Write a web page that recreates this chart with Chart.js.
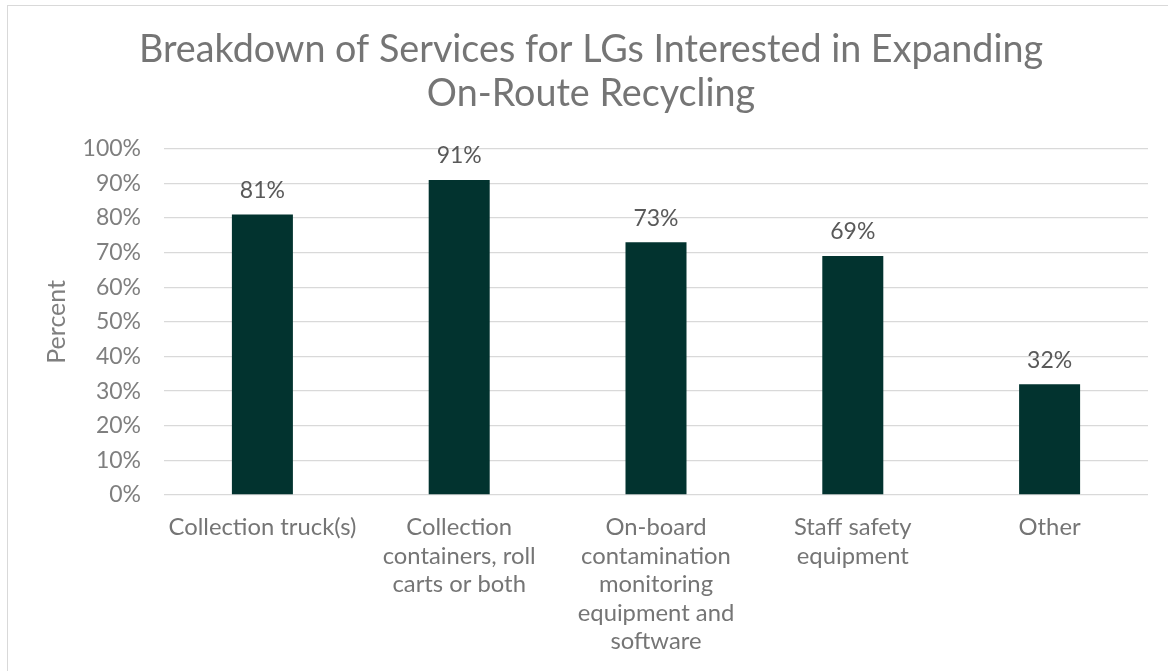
<!DOCTYPE html>
<html>
<head>
<meta charset="utf-8">
<script src="https://cdn.jsdelivr.net/npm/chart.js@4/dist/chart.umd.min.js"></script>
<style>
  html, body { margin: 0; padding: 0; background: #fff; }
  #wrap { position: relative; width: 1168px; height: 671px; overflow: hidden; }
  #frame { position: absolute; left: 7px; top: 5px; width: 1180px; height: 700px; border: 1px solid #d9d9d9; box-sizing: border-box; pointer-events: none; }
  canvas { position: absolute; left: 0; top: 0; }
</style>
</head>
<body>
<div id="wrap">
  <canvas id="servicesChart" width="1168" height="671"></canvas>
  <div id="frame"></div>
</div>
<script>
const categories = [
    'Collection truck(s)',
    ['Collection', 'containers, roll', 'carts or both'],
    ['On-board', 'contamination', 'monitoring', 'equipment and', 'software'],
    ['Staff safety', 'equipment'],
    'Other'
];
const percentValues = [81, 91, 73, 69, 32];
const yTicks = [0, 10, 20, 30, 40, 50, 60, 70, 80, 90, 100];

// labels above each bar
const barLabels = {
    id: 'barLabels',
    afterDatasetsDraw(chart) {
        const ctx = chart.ctx;
        const meta = chart.getDatasetMeta(0);
        ctx.save();
        ctx.font = '23px Lato';
        ctx.fillStyle = '#595959';
        ctx.textAlign = 'center';
        ctx.textBaseline = 'middle';
        meta.data.forEach((bar, i) => {
            ctx.fillText(percentValues[i] + '%', bar.x, bar.y - 24);
        });
        ctx.restore();
    }
};

document.addEventListener('DOMContentLoaded', () => {
    const ctx = document.getElementById('servicesChart').getContext('2d');
    new Chart(ctx, {
        type: 'bar',
        data: {
            labels: categories,
            datasets: [{
                label: 'Percent',
                data: percentValues,
                backgroundColor: '#02332f',
                barPercentage: 0.31,
                categoryPercentage: 1
            }]
        },
        options: {
            responsive: false,
            animation: false,
            layout: { padding: { left: 34, right: 20, top: 0, bottom: 0 } },
            plugins: {
                legend: { display: false },
                tooltip: { enabled: false },
                title: {
                    display: true,
                    text: ['Breakdown of Services for LGs Interested in Expanding', 'On-Route Recycling'],
                    color: '#757575',
                    font: { family: 'Lato', size: 37.7, weight: 'normal', lineHeight: 1.19 },
                    padding: { top: 27, bottom: 32 }
                }
            },
            scales: {
                x: {
                    grid: { display: false, drawTicks: false },
                    border: { display: false },
                    ticks: {
                        color: '#757575',
                        font: { family: 'Lato', size: 23.8, lineHeight: 1.2 },
                        padding: 18,
                        maxRotation: 0,
                        autoSkip: false
                    },
                    afterFit(scale) { scale.height = 176; }
                },
                y: {
                    min: 0,
                    max: 100,
                    afterBuildTicks(scale) {
                        scale.ticks = yTicks.map(v => ({ value: v }));
                    },
                    grid: { color: '#d9d9d9', lineWidth: 1.3, drawTicks: false },
                    border: { display: false },
                    ticks: {
                        color: '#7f7f7f',
                        font: { family: 'Lato', size: 23 },
                        padding: 23,
                        callback: v => v + '%'
                    },
                    title: {
                        display: true,
                        text: 'Percent',
                        color: '#7f7f7f',
                        font: { family: 'Lato', size: 25 },
                        padding: { top: 8, bottom: 0 }
                    },
                    afterFit(scale) { scale.width = 130; }
                }
            }
        },
        plugins: [barLabels]
    });
});
</script>
</body>
</html>
